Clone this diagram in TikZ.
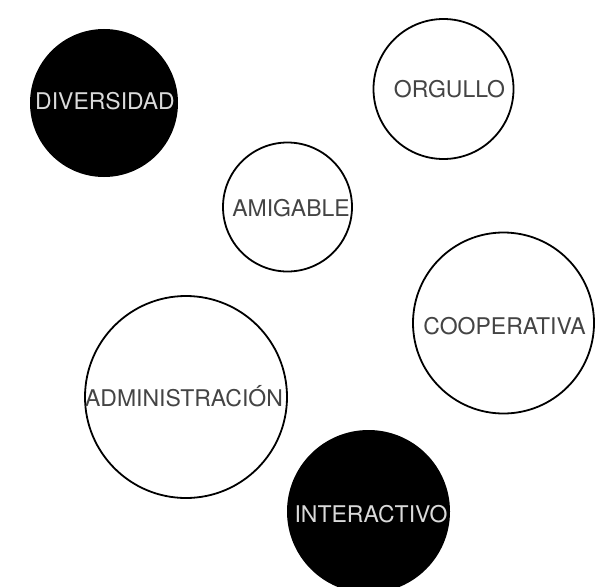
\documentclass[tikz,border=0pt]{standalone}
\usepackage{fontspec}
\setmainfont{TeX Gyre Heros}
\definecolor{darktxt}{HTML}{444444}
\definecolor{lighttxt}{HTML}{DADADA}
\begin{document}
\begin{tikzpicture}[x=1pt,y=-1pt,
  ring/.style={circle,draw=black,line width=1.8pt,fill=white,inner sep=0pt},
  disc/.style={circle,fill=black,inner sep=0pt},
  lbl/.style={inner sep=0pt,text height=16.5pt,text depth=0pt,font=\fontsize{23}{25}\selectfont,text=darktxt},
  lbldark/.style={lbl,text=lighttxt}]
\useasboundingbox (0,0) rectangle (604,586);
\node[disc,minimum size=148pt] (div) at (104,103) {};
\node[lbldark] (divt) at (105,101) {DIVERSIDAD};
\node[ring,minimum size=140pt] (org) at (443.5,89) {};
\node[lbl] (orgt) at (449.5,89) {ORGULLO};
\node[ring,minimum size=129pt] (ami) at (287.5,207) {};
\node[lbl] (amit) at (291,208) {AMIGABLE};
\node[ring,minimum size=181pt] (coo) at (503.5,323) {};
\node[lbl] (coot) at (504.5,326.5) {COOPERATIVA};
\node[ring,minimum size=202pt] (adm) at (186,397) {};
\node[lbl] (admt) at (184,398) {ADMINISTRACIÓN};
\node[disc,minimum size=163pt] (int) at (368.5,511.5) {};
\node[lbldark] (intt) at (371,514) {INTERACTIVO};
\end{tikzpicture}
\end{document}
